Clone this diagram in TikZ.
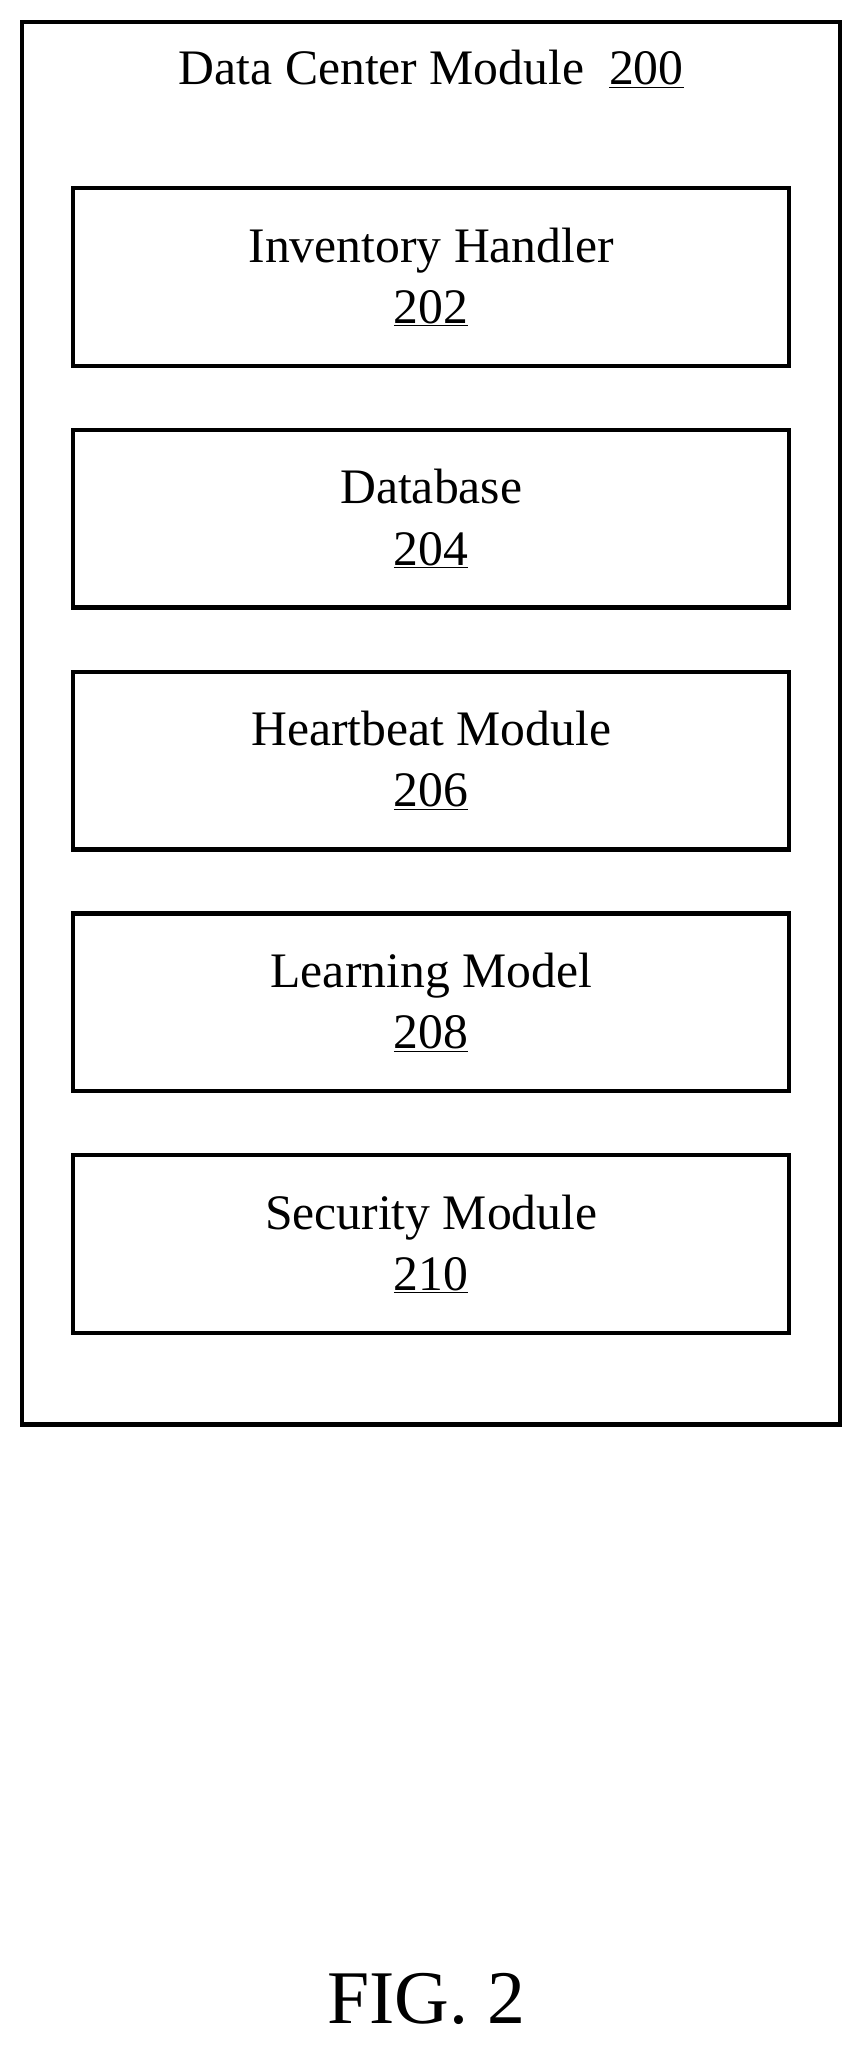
\documentclass[tikz,border=0pt]{standalone}
\usepackage{fontspec}
\setmainfont{Liberation Serif}
\begin{document}
\begin{tikzpicture}[x=1pt,y=-1pt,
  blk/.style={draw,line width=3.3pt,minimum width=548pt,minimum height=136pt,align=center,font=\fontsize{38}{47}\selectfont,inner sep=0pt}]
\useasboundingbox (0,0) rectangle (663,1568);
\draw[line width=3.3pt] (17,17) rectangle (643,1090);
\node[font=\fontsize{38}{46}\selectfont] (title) at (330,53) {Data Center Module\ \ \underline{200}};
\node[blk] (b1) at (330,212) {Inventory Handler\\\underline{202}};
\node[blk] (b2) at (330,397) {Database\\\underline{204}};
\node[blk] (b3) at (330,582) {Heartbeat Module\\\underline{206}};
\node[blk] (b4) at (330,767) {Learning Model\\\underline{208}};
\node[blk] (b5) at (330,952) {Security Module\\\underline{210}};
\node[font=\fontsize{58}{62}\selectfont] (fig) at (326,1530) {FIG. 2};
\end{tikzpicture}
\end{document}
